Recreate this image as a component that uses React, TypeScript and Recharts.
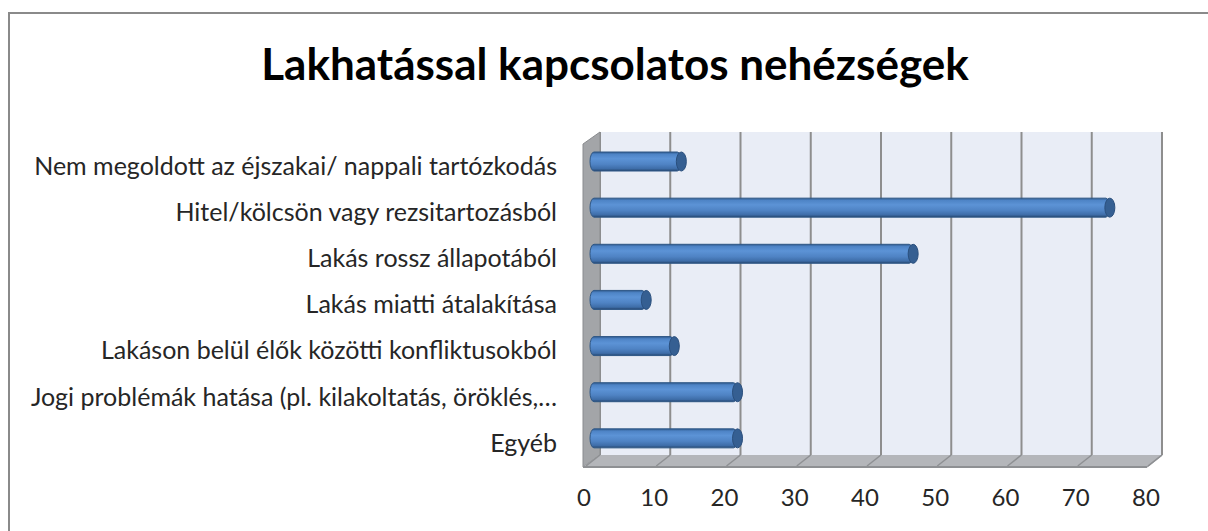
import React from 'react';
import { BarChart, Bar, XAxis, YAxis, CartesianGrid, ReferenceArea } from 'recharts';

const categories = [
  'Nem megoldott az éjszakai/ nappali tartózkodás',
  'Hitel/kölcsön vagy rezsitartozásból',
  'Lakás rossz állapotából',
  'Lakás miatti átalakítása',
  'Lakáson belül élők közötti konfliktusokból',
  'Jogi problémák hatása (pl. kilakoltatás, öröklés,…',
  'Egyéb',
];
const values = [13, 74, 46, 8, 12, 21, 21];
const xTicks = [0, 10, 20, 30, 40, 50, 60, 70, 80];
const title = 'Lakhatással kapcsolatos nehézségek';

const data = categories.map((name, i) => ({ name, value: values[i] }));

const FONT = 'Lato, "DejaVu Sans", sans-serif';
// depth offsets of the fake 3D box
const FRONT_DX = -17;
const FRONT_DY = 12;
const BAR_DX = -10;
const BAR_DY = 6;

// side wall and floor drawn around the plot box
const Walls = (props: any) => {
  const { x, y, width, height } = props;
  const bottom = y + height;
  const right = x + width;
  return (
    <g>
      <polygon
        points={`${x},${y} ${x},${bottom} ${x + FRONT_DX},${bottom + FRONT_DY} ${x + FRONT_DX},${y + FRONT_DY}`}
        fill="#A3A5A8"
        stroke="#8A8C8F"
        strokeWidth={1}
      />
      <polygon
        points={`${x},${bottom} ${right},${bottom} ${right + FRONT_DX + 2},${bottom + FRONT_DY} ${x + FRONT_DX},${bottom + FRONT_DY}`}
        fill="#B4B6BA"
      />
      <line x1={x + FRONT_DX} y1={bottom + FRONT_DY} x2={right + FRONT_DX + 2} y2={bottom + FRONT_DY} stroke="#8E9093" strokeWidth={2} />
      <line x1={right} y1={bottom} x2={right + FRONT_DX + 2} y2={bottom + FRONT_DY} stroke="#9A9CA0" strokeWidth={1.5} />
    </g>
  );
};

const Cylinder = (props: any) => {
  const { x, y, width, height } = props;
  if (!width || width <= 0) return null;
  const x0 = x + BAR_DX;
  const y0 = y + BAR_DY;
  const ry = height / 2;
  return (
    <g>
      <defs>
        <linearGradient id="cylGrad" x1="0" y1="0" x2="0" y2="1">
          <stop offset="0%" stopColor="#2F5A8E" />
          <stop offset="12%" stopColor="#4E84C6" />
          <stop offset="35%" stopColor="#5C93D6" />
          <stop offset="65%" stopColor="#4F83C4" />
          <stop offset="88%" stopColor="#3E6DA8" />
          <stop offset="100%" stopColor="#25466F" />
        </linearGradient>
      </defs>
      <rect x={x0} y={y0} width={width} height={height} rx={4} ry={ry} fill="url(#cylGrad)" stroke="#2E5786" strokeWidth={1} />
      <ellipse cx={x0 + width} cy={y0 + ry} rx={5} ry={ry} fill="#355F92" stroke="#2A4F7D" strokeWidth={1} />
    </g>
  );
};

const CategoryTick = (props: any) => {
  const { x, y, payload } = props;
  return (
    <text x={x - 43} y={y + 11} dy="0.35em" textAnchor="end" fontFamily={FONT} fontSize={25} fill="#262626">
      {payload.value}
    </text>
  );
};

const ValueTick = (props: any) => {
  const { x, y, payload } = props;
  return (
    <g>
      <line x1={x} y1={455} x2={x - 14} y2={466} stroke="#8E9093" strokeWidth={1.5} />
      <text x={x - 16} y={y + 43} textAnchor="middle" fontFamily={FONT} fontSize={24} fill="#262626">
        {payload.value}
      </text>
    </g>
  );
};

export default function App() {
  return (
    <div style={{ position: 'absolute', left: 0, top: 0, width: 1208, height: 531, background: '#fff', overflow: 'hidden' }}>
      <div
        style={{
          position: 'absolute',
          left: 8,
          top: 12,
          width: 1220,
          height: 540,
          border: '2px solid #8A8A8A',
        }}
      />
      <div
        style={{
          position: 'absolute',
          left: 0,
          top: 37,
          width: 1230,
          textAlign: 'center',
          fontFamily: FONT,
          fontWeight: 700,
          fontSize: 44,
          lineHeight: '52px',
          color: '#000',
        }}
      >
        {title}
      </div>
      <div style={{ position: 'absolute', left: 0, top: 0 }}>
        <BarChart
          width={1208}
          height={531}
          data={data}
          layout="vertical"
          margin={{ top: 132, right: 46, bottom: 26, left: 40 }}
          barSize={19}
        >
          <CartesianGrid horizontal={false} vertical={true} fill="#E9EDF6" stroke="#8E8E8E" strokeWidth={2} />
          <XAxis
            type="number"
            domain={[0, 80]}
            ticks={xTicks}
            interval={0}
            height={50}
            axisLine={false}
            tickLine={false}
            tick={<ValueTick />}
          />
          <YAxis
            type="category"
            dataKey="name"
            width={560}
            axisLine={false}
            tickLine={false}
            tickSize={0}
            tickMargin={0}
            interval={0}
            tick={<CategoryTick />}
          />
          <ReferenceArea x1={0} x2={80} ifOverflow="visible" shape={<Walls />} />
          <Bar dataKey="value" shape={<Cylinder />} isAnimationActive={false} />
        </BarChart>
      </div>
    </div>
  );
}
